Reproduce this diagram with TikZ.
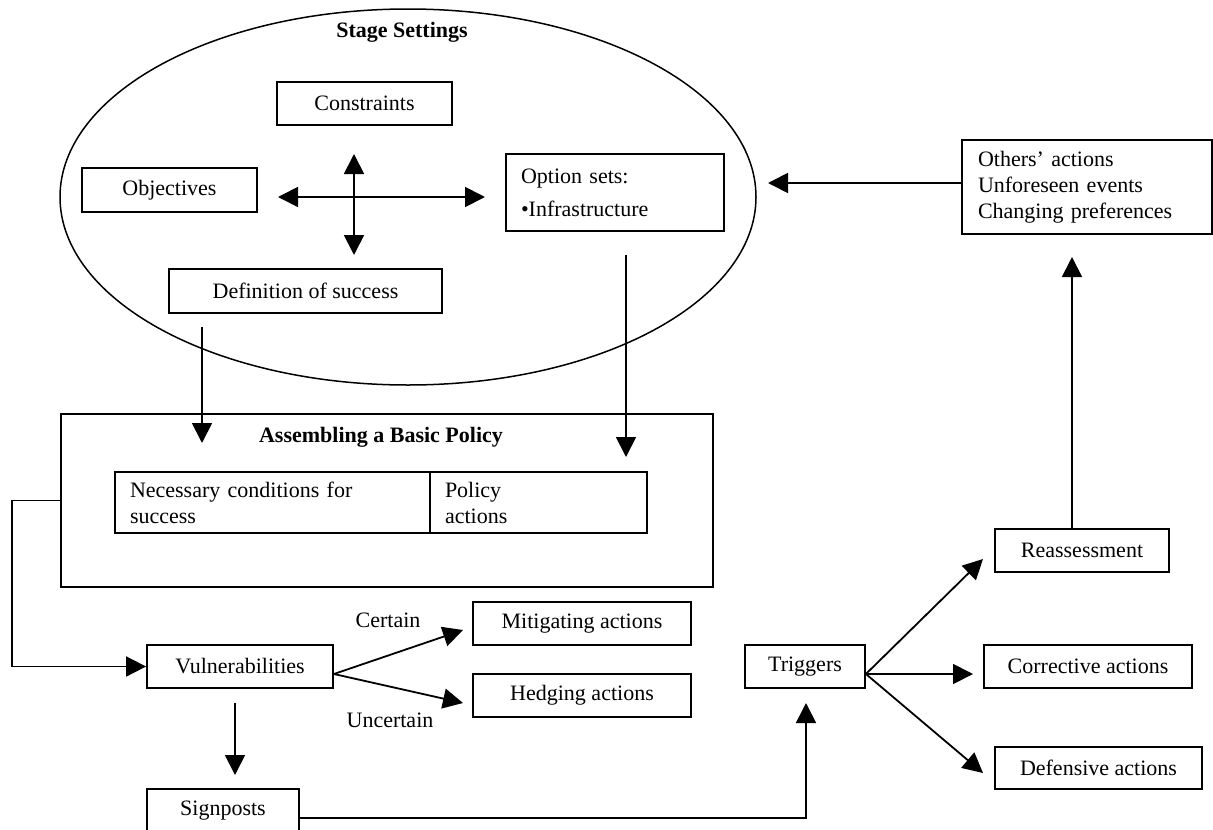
\documentclass[tikz,border=0pt]{standalone}
\usepackage{fontspec}
\setmainfont{Liberation Serif}
\usetikzlibrary{arrows.meta,calc,shapes.geometric}
\begin{document}
\begin{tikzpicture}[x=1pt,y=-1pt,
  every node/.style={font=\fontsize{22}{26}\selectfont},
  box/.style={draw,line width=1.8pt,inner sep=0pt,minimum height=43pt},
  arr/.style={line width=1.8pt,-{Triangle[length=20pt,width=20pt]}},
  dbl/.style={line width=1.8pt,{Triangle[length=20pt,width=20pt]}-{Triangle[length=20pt,width=20pt]}},
  heading/.style={font=\fontsize{22}{26}\selectfont\bfseries,anchor=base}]
\useasboundingbox (0,0) rectangle (1213,830);

% stage settings
\node[draw,ellipse,line width=1.5pt,inner sep=0pt,minimum width=696pt,minimum height=376pt] (stage) at (408,197) {};
\node[heading] (stagettl) at (402,37) {Stage Settings};
\node[box,minimum width=175pt] (cons) at (364.5,103.5) {Constraints};
\node[box,minimum width=175pt,minimum height=44pt] (obj) at (169.5,190) {Objectives};
\node[box,minimum width=218pt,minimum height=77pt,text width=188pt,align=left] (opt) at (615,192.5) {Option sets:\\[7pt]•Infrastructure};
\node[box,minimum width=273pt,minimum height=44pt] (def) at (305.5,291) {Definition of success};

% outside influences
\node[box,minimum width=250pt,minimum height=94pt,text width=218pt,align=left] (oth) at (1087,187) {Others’ actions\\Unforeseen events\\Changing preferences};

% basic policy
\node[box,minimum width=652pt,minimum height=173pt] (asm) at (387,500.5) {};
\node[heading] (asmttl) at (381,442) {Assembling a Basic Policy};
\node[box,minimum width=315pt,minimum height=61pt,text width=285pt,align=left] (nec) at (272.5,502.5) {Necessary conditions for\\success};
\node[box,minimum width=217pt,minimum height=61pt,text width=187pt,align=left] (pol) at (538.5,502.5) {Policy\\actions};

% vulnerabilities and responses
\node[box,minimum width=186pt] (vul) at (240,666.5) {Vulnerabilities};
\node[box,minimum width=218pt] (mit) at (582,623.5) {Mitigating actions};
\node[box,minimum width=218pt] (hed) at (582,695.5) {Hedging actions};
\node[box,minimum width=152pt,minimum height=44pt] (sig) at (223,811) {Signposts};
\node[anchor=base] (cert) at (388,627) {Certain};
\node[anchor=base] (unc) at (390,727) {Uncertain};

% triggers and responses
\node[box,minimum width=120pt] (trg) at (805,666.5) {Triggers};
\node[box,minimum width=174pt] (rea) at (1082,550.5) {Reassessment};
\node[box,minimum width=208pt] (cor) at (1088,666.5) {Corrective actions};
\node[box,minimum width=207pt,minimum height=42pt] (dfn) at (1098.5,768) {Defensive actions};

% cross of double arrows between the stage-setting items
\coordinate (crossW) at (278,197);
\coordinate (crossE) at (485,197);
\coordinate (crossN) at (354,154);
\coordinate (crossS) at (354,255);
\draw[dbl] (crossW) -- (crossE);
\draw[dbl] (crossN) -- (crossS);

% feedback loop
\coordinate (stageIn) at (768,183);
\draw[arr] (oth.west |- stageIn) -- (stageIn);
\coordinate (othIn) at (1072,257);
\draw[arr] (rea.north -| othIn) -- (othIn);

% stage settings into the basic policy
\coordinate (defOut) at (202,327);
\coordinate (asmInL) at (202,443);
\draw[arr] (defOut) -- (asmInL);
\coordinate (optOut) at (626,255);
\coordinate (asmInR) at (626,457);
\draw[arr] (optOut) -- (asmInR);

% basic policy to vulnerabilities
\draw[arr] (asm.west) -- ++(-48,0) |- (vul.west);

% vulnerability branches
\coordinate (vulR) at ([yshift=-7.5pt]vul.east);
\coordinate (mitIn) at (463,630);
\coordinate (hedIn) at (463,703);
\draw[arr] (vulR) -- (mitIn);
\draw[arr] (vulR) -- (hedIn);
\coordinate (vulD) at (235,703);
\coordinate (sigIn) at (235,775);
\draw[arr] (vulD) -- (sigIn);

% signposts to triggers
\coordinate (trgIn) at (806,703);
\draw[arr] (sig.east |- 0,818) -| (trgIn);

% trigger branches
\coordinate (trgR) at ([yshift=-7.5pt]trg.east);
\coordinate (reaIn) at (983,559);
\coordinate (corIn) at (973,674);
\coordinate (dfnIn) at (983,773);
\draw[arr] (trgR) -- (reaIn);
\draw[arr] (trgR) -- (corIn);
\draw[arr] (trgR) -- (dfnIn);
\end{tikzpicture}
\end{document}
